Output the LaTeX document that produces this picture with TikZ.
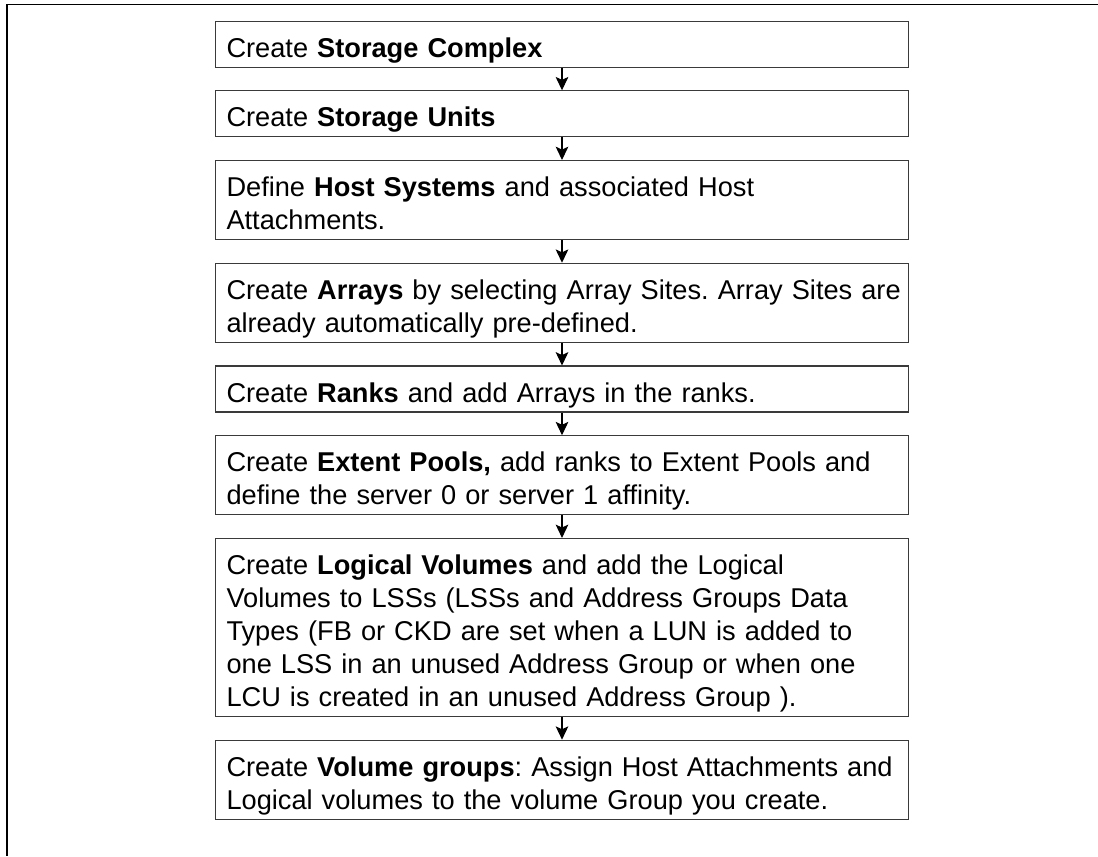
\documentclass[tikz,border=0pt]{standalone}
\usepackage{fontspec}
\setmainfont{Liberation Sans}
\usepackage{tikz}
\usetikzlibrary{positioning,arrows.meta}
\definecolor{frameline}{HTML}{000000}
\definecolor{boxline}{HTML}{3a3a3a}
\newcommand{\boxtopstrut}{\rule{0pt}{27pt}}
\newcommand{\boxbotstrut}{\rule[-7.5pt]{0pt}{7.5pt}}
\tikzset{
  stepbox/.style={
    rectangle, draw=boxline, line width=0.8pt,
    text width=503.25pt, inner xsep=8.25pt, inner ysep=0pt,
    align=left, anchor=north,
    font=\fontsize{20.4pt}{24.75pt}\selectfont\frenchspacing
  },
  arrow/.style={
    -{Stealth[length=10pt,width=9.5pt,inset=2.2pt]},
    line width=0.8pt, draw=black
  },
}
\begin{document}
\begin{tikzpicture}[node distance=17pt]
  \useasboundingbox (0,0) rectangle (823.5pt,-642pt);
  % outer frame, top and left side only
  \draw[frameline, line width=1.1pt] (823.5pt,-3.4pt) -- (5.25pt,-3.4pt) -- (5.25pt,-642pt);
  \node[stepbox] (s1) at (421.5pt,-15.4pt) {\boxtopstrut Create \textbf{Storage Complex}\boxbotstrut};
  \node[stepbox, below=of s1] (s2) {\boxtopstrut Create \textbf{Storage Units}\boxbotstrut};
  \node[stepbox, below=of s2] (s3) {\boxtopstrut Define \textbf{Host Systems} and associated Host\\
    Attachments.\boxbotstrut};
  \node[stepbox, below=of s3] (s4) {\boxtopstrut\mbox{Create \textbf{Arrays} by selecting Array Sites. Array Sites are}\\
    already automatically pre-defined.\boxbotstrut};
  \node[stepbox, below=of s4] (s5) {\boxtopstrut Create \textbf{Ranks} and add Arrays in the ranks.\boxbotstrut};
  \node[stepbox, below=of s5] (s6) {\boxtopstrut\mbox{Create \textbf{Extent Pools,} add ranks to Extent Pools and}\\
    define the server 0 or server 1 affinity.\boxbotstrut};
  \node[stepbox, below=of s6] (s7) {\boxtopstrut Create \textbf{Logical Volumes} and add the Logical\\
    Volumes to LSSs (LSSs and Address Groups Data\\
    Types (FB or CKD are set when a LUN is added to\\
    one LSS in an unused Address Group or when one\\
    LCU is created in an unused Address Group ).\boxbotstrut};
  \node[stepbox, below=of s7] (s8) {\boxtopstrut\mbox{Create \textbf{Volume groups}: Assign Host Attachments and}\\
    Logical volumes to the volume Group you create.\boxbotstrut};
  % arrows between the steps
  \foreach \a/\b in {s1/s2,s2/s3,s3/s4,s4/s5,s5/s6,s6/s7,s7/s8}
    \draw[arrow] (\a) -- (\b);
\end{tikzpicture}
\end{document}
